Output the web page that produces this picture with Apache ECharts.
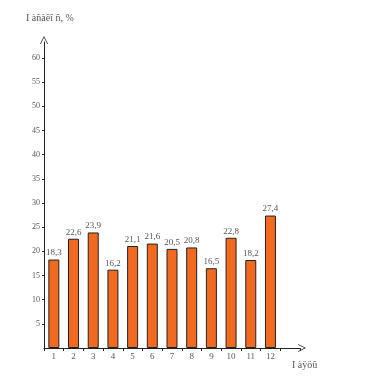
<!DOCTYPE html>
<html><head><meta charset="utf-8">
<script src="https://cdn.jsdelivr.net/npm/echarts@6/dist/echarts.min.js"></script>
<style>html,body{margin:0;padding:0;background:#fff}#c{width:366px;height:377px}</style>
</head><body><div id="c"></div>
<script>
var categories = ['1','2','3','4','5','6','7','8','9','10','11','12'];
var values = [18.3, 22.6, 23.9, 16.2, 21.1, 21.6, 20.5, 20.8, 16.5, 22.8, 18.2, 27.4];
var yTicks = [5,10,15,20,25,30,35,40,45,50,55,60];
var yName = 'I àñàêî ñ, %';
var xName = 'I àÿöû';

var cats = categories.concat(['']);
var vals = values.concat([null]);
var chevron = 'path://M0,10 L5,0 L10,10 L9,10 L5,2 L1,10 Z';
var font = 'Liberation Serif';
var chart = echarts.init(document.getElementById('c'), null, {renderer:'canvas'});
chart.setOption({
  animation:false,
  grid:{left:44, top:42, width:256, height:306, containLabel:false},
  xAxis:{
    type:'category', data:cats,
    axisLine:{lineStyle:{color:'#222', width:1}, symbol:['none', chevron], symbolSize:[10,8], symbolOffset:[0,2]},
    axisTick:{show:true, length:3, lineStyle:{color:'#222'}, interval:0},
    axisLabel:{color:'#555', fontFamily:font, fontSize:9, margin:4},
    name:xName, nameLocation:'end', nameGap:0,
    nameTextStyle:{color:'#555', fontFamily:font, fontSize:10, align:'left', verticalAlign:'top', padding:[12,0,0,-8]}
  },
  yAxis:{
    type:'value', min:0, max:63.3, interval:5,
    axisLine:{show:true, lineStyle:{color:'#222', width:1}, symbol:['none', chevron], symbolSize:[10,8], symbolOffset:[0,2]},
    axisTick:{show:true, length:2, lineStyle:{color:'#222'}},
    splitLine:{show:false},
    axisLabel:{color:'#555', fontFamily:font, fontSize:8, margin:4, showMinLabel:false, showMaxLabel:false,
      formatter:function(v){return yTicks.indexOf(v)>=0 ? String(v) : '';}},
    name:yName, nameLocation:'end', nameGap:19,
    nameTextStyle:{color:'#555', fontFamily:font, fontSize:10, align:'left', padding:[0,0,0,-18]}
  },
  series:[{
    type:'bar', data:vals, barWidth:11,
    itemStyle:{color:'#F26A21', borderColor:'#222', borderWidth:1},
    label:{show:true, position:'top', distance:2, color:'#555', fontFamily:font, fontSize:9,
      formatter:function(p){return p.value==null?'':String(p.value).replace('.',',');}}
  }]
});
</script></body></html>
